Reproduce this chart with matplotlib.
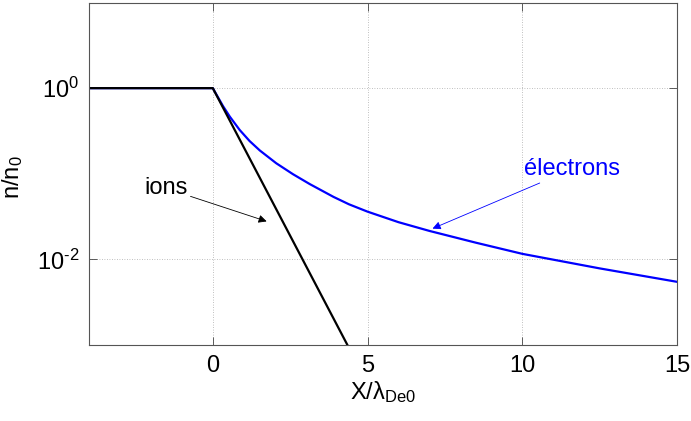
import matplotlib
matplotlib.use("Agg")
import matplotlib.pyplot as plt

# profils de densite
ions_x = [-4, 0, 4.35]
ions_n = [1.0, 1.0, 1e-3]

elec_x = [-4, 0, 0.33, 0.55, 0.87, 1.19, 1.52, 2.05, 2.59, 3.13, 3.9, 4.4,
          5.0, 6.0, 7.0, 8.5, 10.0, 12.5, 15.0]
elec_n = [1.0, 1.0, 0.617, 0.4645, 0.3243, 0.241, 0.187, 0.1327, 0.0989, 0.0759,
          0.0537, 0.044, 0.0361, 0.0272, 0.0215, 0.01567, 0.01161, 0.00785, 0.00547]

xticks = [0, 5, 10, 15]
yticks = [1e-2, 1e0]
ytick_labels = [r"10$^{\text{-2}}$", r"10$^{\text{0}}$"]

plt.rcParams['font.family'] = ['Liberation Sans', 'DejaVu Sans']
plt.rcParams['mathtext.fontset'] = 'custom'
plt.rcParams['mathtext.rm'] = 'Liberation Sans'
plt.rcParams['mathtext.it'] = 'Liberation Sans'

fig = plt.figure(figsize=(6.91, 4.21), dpi=100)
ax = fig.add_axes([0.1288, 0.1805, 0.851, 0.8135])

ax.plot(elec_x, elec_n, color='blue', lw=1.6)
ax.plot(ions_x, ions_n, color='black', lw=1.6)

ax.set_yscale('log')
ax.set_xlim(-4, 15)
ax.set_ylim(1e-3, 1e1)
ax.set_xticks(xticks)
ax.set_xticklabels([str(t) for t in xticks])
ax.set_yticks(yticks)
ax.set_yticklabels(ytick_labels)
ax.minorticks_off()
ax.tick_params(direction='in', length=6, width=0.6, color='#444444',
               labelsize=17, top=True, right=True, pad=7)
for s in ax.spines.values():
    s.set_color('#555555')
    s.set_linewidth(0.8)
ax.grid(True, linestyle=(0, (1, 2)), color='#aaaaaa', lw=0.6)

ax.set_xlabel(r"X/$\lambda_{\mathrm{De0}}$", fontsize=17, labelpad=2)
ax.set_ylabel(r"n/n$_{\mathrm{0}}$", fontsize=17)
ax.yaxis.set_label_coords(-0.109, 0.49)

ax.annotate("ions", xy=(1.74, 10**-1.556), xytext=(-0.81, 10**-1.17),
            fontsize=17, ha='right', va='center',
            arrowprops=dict(arrowstyle='-|>', color='black', lw=0.6,
                            mutation_scale=12, shrinkA=0, shrinkB=0))
ax.annotate("électrons", xy=(7.1, 10**-1.64), xytext=(10.06, 10**-0.947),
            fontsize=17, ha='left', va='center', color='blue',
            arrowprops=dict(arrowstyle='-|>', color='blue', lw=0.6,
                            mutation_scale=12, shrinkA=0, shrinkB=0))

fig.savefig("out.png", dpi=100)
